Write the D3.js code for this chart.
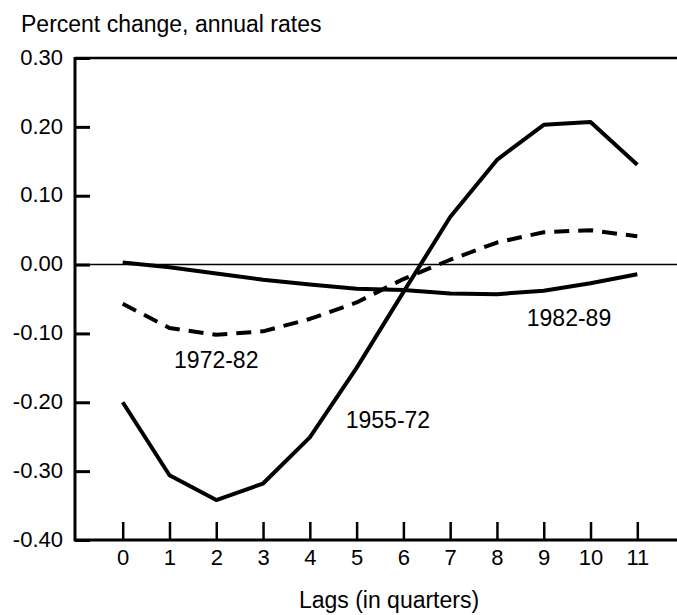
<!DOCTYPE html>
<html>
<head>
<meta charset="utf-8">
<script src="https://cdn.jsdelivr.net/npm/d3@7"></script>
<style>
  body { margin: 0; background: #fff; }
  text { font-family: "Liberation Sans", Arial, sans-serif; fill: #000; }
</style>
</head>
<body>
<div id="chart"></div>
<script>
const lags = [0, 1, 2, 3, 4, 5, 6, 7, 8, 9, 10, 11];
const yTicks = [-0.4, -0.3, -0.2, -0.1, 0, 0.1, 0.2, 0.3];

const s1955 = [-0.20, -0.306, -0.342, -0.318, -0.251, -0.150, -0.040, 0.069, 0.152, 0.203, 0.207, 0.145];
const s1972 = [-0.057, -0.092, -0.102, -0.097, -0.079, -0.055, -0.021, 0.007, 0.032, 0.047, 0.050, 0.041];
const s1982 = [0.003, -0.004, -0.013, -0.022, -0.029, -0.035, -0.037, -0.042, -0.043, -0.038, -0.027, -0.014];

const seriesNames = ["1955-72", "1972-82", "1982-89"];
const labelAt = [[5.67, -0.237], [2, -0.1496], [9.54, -0.089]];

const width = 677, height = 615;
const margin = { top: 58, right: 0, bottom: 75, left: 75 };

const x = d3.scaleLinear()
  .domain([0, 11])
  .range([122.7, 637.3]);

const y = d3.scaleLinear()
  .domain([-0.4, 0.3])
  .range([height - margin.bottom, margin.top]);

const svg = d3.select('#chart').append('svg')
  .attr("width", width)
  .attr("height", height)
  .attr("viewBox", [0, 0, width, height]);

// frame: top rule and zero line
svg.append("line")
  .attr("x1", margin.left).attr("x2", width)
  .attr("y1", y(0.3)).attr("y2", y(0.3))
  .attr("stroke", "#000").attr("stroke-width", 2.5);

svg.append("line")
  .attr("x1", margin.left).attr("x2", width)
  .attr("y1", y(0)).attr("y2", y(0))
  .attr("stroke", "#000").attr("stroke-width", 1.6);

const fmt = d => d3.format(".2f")(d).replace("\u2212", "-");

const xAxis = g => g
  .attr("transform", `translate(0,${y(-0.4)})`)
  .call(d3.axisBottom(x).tickValues(lags).tickSize(-18).tickFormat(d3.format("d")))
  .call(g => g.select(".domain").remove())
  .call(g => g.selectAll(".tick line").attr("stroke-width", 2.5))
  .call(g => g.selectAll(".tick text")
    .attr("y", 25)
    .attr("dy", null)
    .attr("font-size", 22)
    .attr("font-family", null));

const yAxis = g => g
  .attr("transform", `translate(${margin.left},0)`)
  .call(d3.axisLeft(y).tickValues(yTicks).tickSize(-15).tickPadding(12).tickFormat(fmt))
  .call(g => g.select(".domain").remove())
  .call(g => g.selectAll(".tick line").attr("stroke-width", 3))
  .call(g => g.selectAll(".tick text")
    .attr("dy", "0.28em")
    .attr("font-size", 22)
    .attr("font-family", null));

svg.append("g").call(xAxis);
svg.append("g").call(yAxis);

// axis lines
svg.append("line")
  .attr("x1", margin.left).attr("x2", margin.left)
  .attr("y1", y(0.3) - 1).attr("y2", y(-0.4) + 1.5)
  .attr("stroke", "#000").attr("stroke-width", 3);

svg.append("line")
  .attr("x1", margin.left).attr("x2", width)
  .attr("y1", y(-0.4)).attr("y2", y(-0.4))
  .attr("stroke", "#000").attr("stroke-width", 3);

const line = d3.line()
  .x((d, i) => x(lags[i]))
  .y(d => y(d));

const series = [
  { values: s1955, dash: null },
  { values: s1972, dash: "15,9" },
  { values: s1982, dash: null }
];

svg.append("g")
  .attr("fill", "none")
  .attr("stroke", "#000")
  .attr("stroke-width", 4)
  .attr("stroke-linejoin", "round")
  .selectAll("path")
  .data(series)
  .join("path")
  .attr("stroke-dasharray", d => d.dash)
  .attr("d", d => line(d.values));

svg.append("g")
  .selectAll("text")
  .data(seriesNames)
  .join("text")
  .attr("x", (d, i) => x(labelAt[i][0]))
  .attr("y", (d, i) => y(labelAt[i][1]))
  .attr("text-anchor", "middle")
  .attr("font-size", 23)
  .text(d => d);

svg.append("text")
  .attr("x", 21)
  .attr("y", 32)
  .attr("font-size", 23)
  .text("Percent change, annual rates");

svg.append("text")
  .attr("x", 389)
  .attr("y", 608)
  .attr("text-anchor", "middle")
  .attr("font-size", 23)
  .text("Lags (in quarters)");
</script>
</body>
</html>
